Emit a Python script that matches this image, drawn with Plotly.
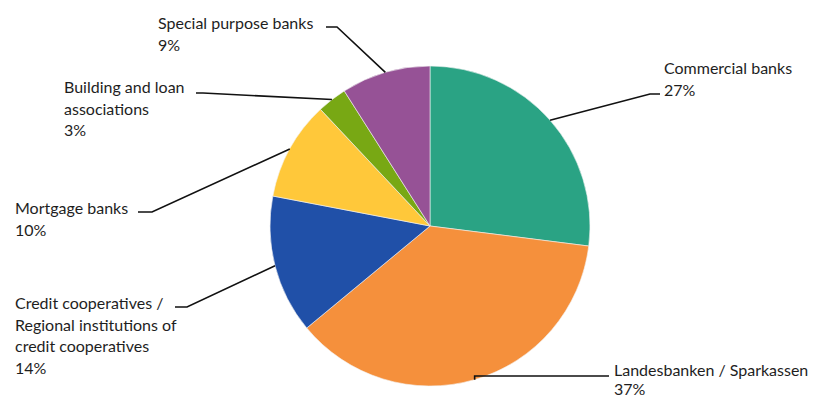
import math
import plotly.graph_objects as go

# Banking groups and their shares (per cent)
categories = [
    "Commercial banks",
    "Landesbanken / Sparkassen",
    "Credit cooperatives / Regional institutions of credit cooperatives",
    "Mortgage banks",
    "Building and loan associations",
    "Special purpose banks",
]
shares = [27, 37, 14, 10, 3, 9]

# Wrapped label lines shown next to each slice
label_lines = [
    ["Commercial banks"],
    ["Landesbanken / Sparkassen"],
    ["Credit cooperatives /", "Regional institutions of", "credit cooperatives"],
    ["Mortgage banks"],
    ["Building and loan", "associations"],
    ["Special purpose banks"],
]

colors = ["#2aa384", "#f5903c", "#2050a8", "#ffc83a", "#78a814", "#965296"]

W, H = 818, 400
CX, CY, R = 430, 226, 160          # pie centre and radius in pixels
FONT = dict(family="Lato, 'Noto Sans', sans-serif", size=16, color="#1e1e1e")

# Label layout (pixels): text left x, first baseline y, line gap, leader elbow, leader end
label_layout = [
    dict(x=663, base=73, gap=21.5, elbow=(650, 94), end=(660, 94)),
    dict(x=613, base=375, gap=19, elbow=None, end=(609, 376)),
    dict(x=14, base=308, gap=21.7, elbow=(187, 307), end=(175, 307)),
    dict(x=14, base=213, gap=21.7, elbow=(152, 212), end=(138, 212)),
    dict(x=63, base=92, gap=21.7, elbow=(203, 93), end=(196, 93)),
    dict(x=157, base=28, gap=21.7, elbow=(337, 27), end=(326, 27)),
]


def px(x):
    return x / W


def py(y):
    return 1 - y / H


fig = go.Figure(
    go.Pie(
        labels=categories,
        values=shares,
        sort=False,
        direction="clockwise",
        rotation=0,
        marker=dict(colors=colors, line=dict(color="#f4f4f4", width=0.6)),
        textinfo="none",
        hoverinfo="label+percent",
        showlegend=False,
        domain=dict(x=[px(CX - R), px(CX + R)], y=[py(CY + R), py(CY - R)]),
    )
)

total = sum(shares)
cum = 0
shapes = []
annotations = []
for cat_lines, val, lay in zip(label_lines, shares, label_layout):
    mid = 2 * math.pi * (cum + val / 2) / total
    cum += val
    sx = CX + R * math.sin(mid)
    sy = CY - R * math.cos(mid)
    fx, fy = lay["end"]
    ex, ey = lay["elbow"] if lay["elbow"] else (sx, fy)
    path = f"M {px(sx)},{py(sy)} L {px(ex)},{py(ey)} L {px(fx)},{py(fy)}"
    shapes.append(dict(type="path", xref="paper", yref="paper", path=path,
                       line=dict(color="#111111", width=1.6)))
    lines = cat_lines + [f"{val}%"]
    for i, t in enumerate(lines):
        base = lay["base"] + i * lay["gap"]
        annotations.append(dict(
            x=px(lay["x"]), y=py(base - 5.5), xref="paper", yref="paper",
            text=t, showarrow=False, xanchor="left", yanchor="middle",
            font=FONT, borderpad=0,
        ))

fig.update_layout(
    width=W, height=H,
    margin=dict(l=0, r=0, t=0, b=0),
    paper_bgcolor="white",
    plot_bgcolor="white",
    shapes=shapes,
    annotations=annotations,
)

fig.write_html("out.html")
